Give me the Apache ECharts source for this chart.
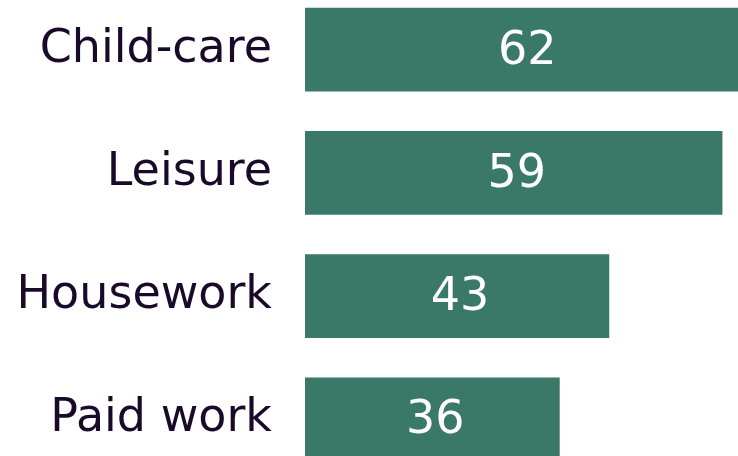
<!DOCTYPE html>
<html><head><meta charset="utf-8">
<script src="https://cdn.jsdelivr.net/npm/echarts@6/dist/echarts.min.js"></script>
<style>html,body{margin:0;padding:0;background:#fff;overflow:hidden;width:738px;height:456px}#c{position:absolute;left:0;top:-12px;width:738px;height:493px}</style>
</head><body><div id="c"></div>
<script>
const categories = ['Child-care', 'Leisure', 'Housework', 'Paid work'];
const values = [62, 59, 43, 36];

const chart = echarts.init(document.getElementById('c'), null, {renderer: 'canvas'});
chart.setOption({
  animation: false,
  grid: {left: 305, right: 0, top: 0, bottom: 0, containLabel: false},
  xAxis: {type: 'value', min: 0, max: 61.2, show: false},
  yAxis: {
    type: 'category', data: categories, inverse: true,
    axisLine: {show: false}, axisTick: {show: false}, splitLine: {show: false},
    axisLabel: {margin: 33, fontFamily: 'DejaVu Sans', fontSize: 46, color: '#1a0a2a'}
  },
  series: [{
    type: 'bar', data: values, barWidth: '68%', clip: false,
    itemStyle: {color: '#3a7868'},
    label: {show: true, position: 'inside', offset: [3, 2], fontFamily: 'DejaVu Sans', fontSize: 46, color: '#ffffff'}
  }]
});
</script></body></html>
